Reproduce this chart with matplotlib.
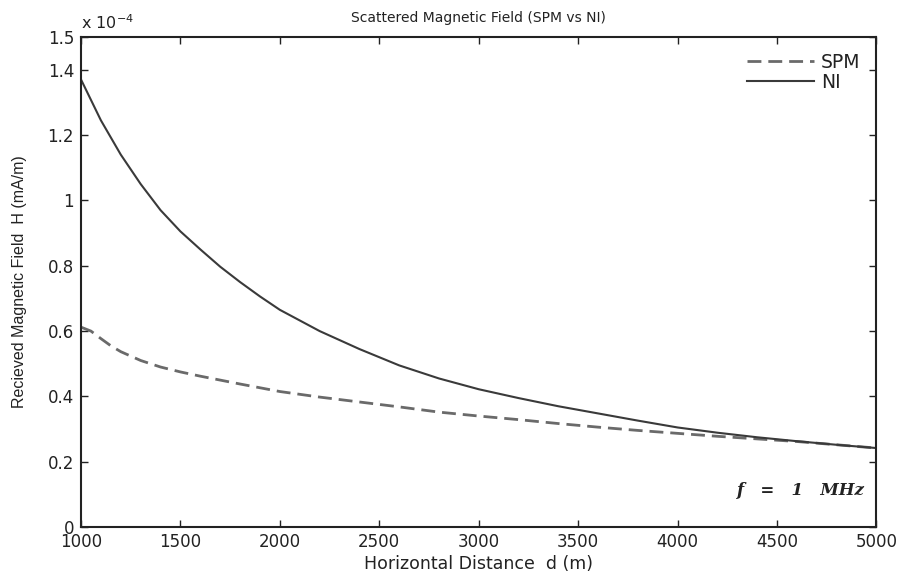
import matplotlib
matplotlib.use("Agg")
import matplotlib.pyplot as plt

plt.rcParams['font.family'] = ['DejaVu Sans']

# field values in units of 1e-4 mA/m
ni_d = [1000, 1100, 1200, 1300, 1400, 1500, 1600, 1700, 1800, 1900, 2000, 2200,
        2400, 2600, 2800, 3000, 3200, 3400, 3600, 3800, 4000, 4200, 4400, 4600,
        4800, 5000]
ni_h = [1.37, 1.245, 1.14, 1.05, 0.97, 0.905, 0.85, 0.797, 0.75, 0.706, 0.665, 0.60,
        0.545, 0.495, 0.455, 0.422, 0.395, 0.37, 0.348, 0.326, 0.305, 0.289, 0.275, 0.263,
        0.252, 0.242]

spm_d = [1000, 1050, 1100, 1150, 1200, 1300, 1400, 1500, 1600, 1800, 2000, 2200, 2400,
         2600, 2800, 3000, 3200, 3400, 3600, 3800, 4000, 4200, 4400, 4600, 4800, 5000]
spm_h = [0.612, 0.600, 0.577, 0.555, 0.537, 0.51, 0.49, 0.475, 0.462, 0.438, 0.415, 0.398,
         0.383, 0.368, 0.352, 0.34, 0.329, 0.317, 0.306, 0.296, 0.287, 0.278, 0.270, 0.262,
         0.252, 0.242]

yticks = [0, 0.2, 0.4, 0.6, 0.8, 1.0, 1.2, 1.4, 1.5]
ylabels = ["0", "0.2", "0.4", "0.6", "0.8", "1", "1.2", "1.4", "1.5"]
xticks = [1000, 1500, 2000, 2500, 3000, 3500, 4000, 4500, 5000]

ink = "#222222"

fig = plt.figure(figsize=(9.05, 5.78), dpi=100)
ax = fig.add_axes([0.0895, 0.088, 0.879, 0.848])

ax.plot(spm_d, spm_h, color="#6a6a6a", lw=2.0, ls=(0, (5, 2.5)), label="SPM")
ax.plot(ni_d, ni_h, color="#3a3a3a", lw=1.5, label="NI")

ax.set_xlim(1000, 5000)
ax.set_ylim(0, 1.5)
ax.set_xticks(xticks)
ax.set_xticklabels([str(t) for t in xticks])
ax.set_yticks(yticks)
ax.set_yticklabels(ylabels)
ax.tick_params(direction="in", top=True, right=True, length=5, width=1,
               labelsize=12, colors=ink)
ax.tick_params(axis="y", pad=5)
ax.tick_params(axis="x", pad=4)
for s in ax.spines.values():
    s.set_linewidth(1.5)
    s.set_color(ink)

ax.set_title("Scattered Magnetic Field (SPM vs NI)", fontsize=10, color=ink, pad=11)
ax.set_xlabel("Horizontal Distance  d (m)", fontsize=12.5, color=ink, labelpad=3)
ax.set_ylabel("Recieved Magnetic Field  H (mA/m)", fontsize=11.5, color=ink,
              family="Liberation Sans", labelpad=15)

ax.text(0.0, 1.01, "x 10$^{-4}$", transform=ax.transAxes, fontsize=11.5,
        color=ink, ha="left", va="bottom")

ax.text(0.985, 0.075, "f   =   1   MHz", transform=ax.transAxes, ha="right", va="center",
        fontsize=12, fontweight="bold", fontstyle="italic", family="DejaVu Serif",
        color=ink)

leg = ax.legend(loc="upper right", frameon=False, fontsize=13.5, handlelength=3.6,
                handletextpad=0.35, labelspacing=0.05, borderaxespad=0.45,
                labelcolor=ink)

fig.savefig("out.png", dpi=100)
